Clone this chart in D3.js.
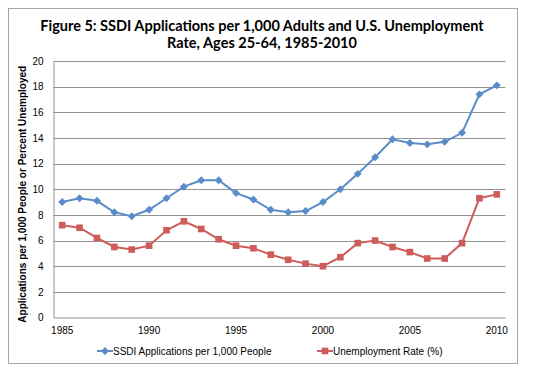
<!DOCTYPE html>
<html>
<head>
<meta charset="utf-8">
<script src="https://cdn.jsdelivr.net/npm/d3@7"></script>
<style>
  body { margin: 0; background: #fff; }
  svg { display: block; }
</style>
</head>
<body>
<svg width="537" height="372"></svg>
<script>
// values
const years = d3.range(1985, 2011);
const ssdi = [9.0, 9.3, 9.1, 8.2, 7.9, 8.4, 9.3, 10.2, 10.7, 10.7, 9.7, 9.2, 8.4,
              8.2, 8.3, 9.0, 10.0, 11.2, 12.5, 13.9, 13.6, 13.5, 13.7, 14.4, 17.4, 18.1];
const unemp = [7.2, 7.0, 6.2, 5.5, 5.3, 5.6, 6.8, 7.5, 6.9, 6.1, 5.6, 5.4, 4.9,
               4.5, 4.2, 4.0, 4.7, 5.8, 6.0, 5.5, 5.1, 4.6, 4.6, 5.8, 9.3, 9.6];
const yTicks = [0, 2, 4, 6, 8, 10, 12, 14, 16, 18, 20];
const xLabels = [1985, 1990, 1995, 2000, 2005, 2010];
const seriesNames = ["SSDI Applications per 1,000 People", "Unemployment Rate (%)"];

const blue = "#5a8cc8", red = "#cd5d5a";

let svg = d3.select("svg");

// outer chart border
svg.append("rect")
    .attr("x", 8.5).attr("y", 8.5)
    .attr("width", 509).attr("height", 355)
    .attr("fill", "none")
    .attr("stroke", "#a6a6a6");

let plot = { left: 53.5, right: 505.5, top: 61, bottom: 317.5 };

let x = d3.scaleBand()
    .domain(years)
    .range([plot.left, plot.right]);
let xc = d => x(d) + x.bandwidth() / 2;

let y = d3.scaleLinear()
    .domain([0, 20])
    .range([plot.bottom, plot.top]);

// gridlines
svg.append("g")
    .selectAll("line")
    .data(yTicks.filter(d => d > 0))
    .enter().append("line")
    .attr("x1", plot.left).attr("x2", plot.right)
    .attr("y1", d => Math.round(y(d)) + 0.5)
    .attr("y2", d => Math.round(y(d)) + 0.5)
    .attr("stroke", "#949494")
    .attr("stroke-width", 1.2);

// y axis
let yAxis = svg.append("g")
    .attr("transform", "translate(" + plot.left + ",0)")
    .call(d3.axisLeft(y).tickValues(yTicks).tickSize(0).tickPadding(10));
yAxis.select(".domain").attr("stroke", "#949494");
yAxis.selectAll("text")
    .attr("font-family", "Liberation Sans, Arial, sans-serif")
    .attr("font-size", 10).attr("fill", "#000");

// x axis
let xAxis = svg.append("g")
    .attr("transform", "translate(0," + plot.bottom + ")")
    .call(d3.axisBottom(x).tickValues(xLabels).tickSize(0).tickPadding(9));
xAxis.select(".domain").attr("stroke", "#949494");
xAxis.selectAll("text")
    .attr("font-family", "Liberation Sans, Arial, sans-serif")
    .attr("font-size", 10).attr("fill", "#000");

// lines
let line = d3.line()
    .x((d, i) => xc(years[i]))
    .y(d => y(d));

svg.append("path")
    .datum(ssdi)
    .attr("d", line)
    .attr("fill", "none")
    .attr("stroke", blue)
    .attr("stroke-width", 2);

svg.append("path")
    .datum(unemp)
    .attr("d", line)
    .attr("fill", "none")
    .attr("stroke", red)
    .attr("stroke-width", 2);

let diamond = d3.symbol().type(d3.symbolDiamond2).size(40);
let square = d3.symbol().type(d3.symbolSquare).size(44);

svg.append("g")
    .selectAll("path")
    .data(ssdi)
    .enter().append("path")
    .attr("d", diamond)
    .attr("transform", (d, i) => "translate(" + xc(years[i]) + "," + y(d) + ")")
    .attr("fill", blue);

svg.append("g")
    .selectAll("path")
    .data(unemp)
    .enter().append("path")
    .attr("d", square)
    .attr("transform", (d, i) => "translate(" + xc(years[i]) + "," + y(d) + ")")
    .attr("fill", red);

// title
let title = svg.append("text")
    .attr("text-anchor", "middle")
    .attr("font-family", "Lato, Open Sans, sans-serif")
    .attr("font-weight", "bold")
    .attr("font-size", 14.5)
    .attr("fill", "#000");
title.append("tspan").attr("x", 262).attr("y", 30.5)
    .text("Figure 5: SSDI Applications per 1,000 Adults and U.S. Unemployment");
title.append("tspan").attr("x", 262).attr("y", 47.5)
    .text("Rate, Ages 25-64, 1985-2010");

// y axis title
svg.append("text")
    .attr("transform", "translate(26," + ((plot.top + plot.bottom) / 2 + 5) + ") rotate(-90)")
    .attr("text-anchor", "middle")
    .attr("font-family", "Liberation Sans, Arial, sans-serif")
    .attr("font-weight", "bold")
    .attr("font-size", 10)
    .attr("fill", "#000")
    .text("Applications per 1,000 People or Percent Unemployed");

// legend
let legend = svg.append("g")
    .selectAll("g")
    .data(seriesNames)
    .enter().append("g")
    .attr("transform", (d, i) => "translate(" + (i === 0 ? 97 : 317) + ",351)");

legend.append("line")
    .attr("x1", 0).attr("x2", 16)
    .attr("stroke", (d, i) => i === 0 ? blue : red)
    .attr("stroke-width", 2);

legend.append("path")
    .attr("d", (d, i) => i === 0 ? diamond() : square())
    .attr("transform", "translate(8,0)")
    .attr("fill", (d, i) => i === 0 ? blue : red);

legend.append("text")
    .attr("x", 16).attr("y", 3.5)
    .attr("font-family", "Liberation Sans, Arial, sans-serif")
    .attr("font-size", 10)
    .attr("fill", "#000")
    .text(d => d);
</script>
</body>
</html>
